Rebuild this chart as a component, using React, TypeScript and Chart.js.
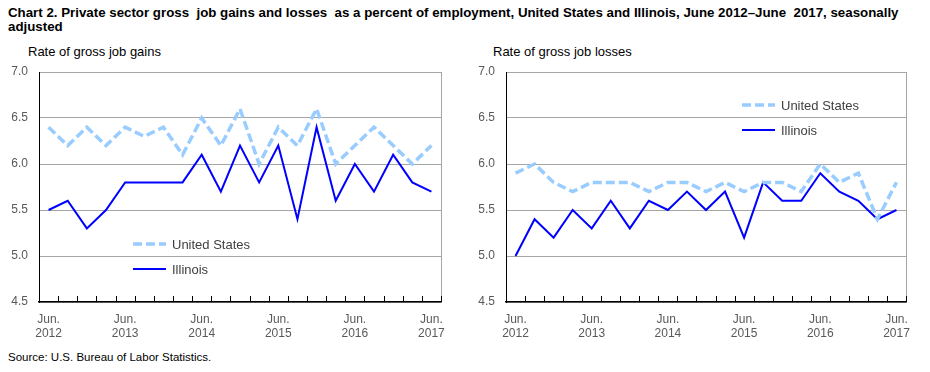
import React, { useEffect, useRef } from 'react';
import { Chart, registerables } from 'chart.js';
Chart.register(...registerables);

const quarters = [
  'Jun. 2012', 'Sep. 2012', 'Dec. 2012', 'Mar. 2013',
  'Jun. 2013', 'Sep. 2013', 'Dec. 2013', 'Mar. 2014',
  'Jun. 2014', 'Sep. 2014', 'Dec. 2014', 'Mar. 2015',
  'Jun. 2015', 'Sep. 2015', 'Dec. 2015', 'Mar. 2016',
  'Jun. 2016', 'Sep. 2016', 'Dec. 2016', 'Mar. 2017',
  'Jun. 2017',
];

const gainsUS = [6.4, 6.2, 6.4, 6.2, 6.4, 6.3, 6.4, 6.1, 6.5, 6.2, 6.6, 6.0, 6.4, 6.2, 6.6, 6.0, 6.2, 6.4, 6.2, 6.0, 6.2];
const gainsIL = [5.5, 5.6, 5.3, 5.5, 5.8, 5.8, 5.8, 5.8, 6.1, 5.7, 6.2, 5.8, 6.2, 5.4, 6.4, 5.6, 6.0, 5.7, 6.1, 5.8, 5.7];
const lossesUS = [5.9, 6.0, 5.8, 5.7, 5.8, 5.8, 5.8, 5.7, 5.8, 5.8, 5.7, 5.8, 5.7, 5.8, 5.8, 5.7, 6.0, 5.8, 5.9, 5.4, 5.8];
const lossesIL = [5.0, 5.4, 5.2, 5.5, 5.3, 5.6, 5.3, 5.6, 5.5, 5.7, 5.5, 5.7, 5.2, 5.8, 5.6, 5.6, 5.9, 5.7, 5.6, 5.4, 5.5];

const seriesNames = ['United States', 'Illinois'];
const yMin = 4.5;
const yMax = 7.0;
const yStep = 0.5;

const FONT = "'Liberation Sans', Arial, sans-serif";
const US_COLOR = '#99CCFF';
const IL_COLOR = '#0000FF';
const GRID = '#A6A6A6';
const TEXT = '#595959';

const decorPlugin = {
  id: 'decor',
  afterDatasetsDraw(chart: any) {
    const { ctx, chartArea } = chart;
    const xs = chart.scales.x;
    const half = (xs.getPixelForValue(1) - xs.getPixelForValue(0)) / 2;
    ctx.save();
    ctx.strokeStyle = GRID;
    ctx.lineWidth = 1;
    ctx.beginPath();
    ctx.moveTo(Math.round(chartArea.right) + 0.5, chartArea.top);
    ctx.lineTo(Math.round(chartArea.right) + 0.5, chartArea.bottom);
    ctx.stroke();
    ctx.strokeStyle = '#000';
    ctx.lineWidth = 1;
    for (let i = 0; i <= quarters.length; i++) {
      const x = Math.round(xs.getPixelForValue(i) - half) + 0.5;
      ctx.beginPath();
      ctx.moveTo(x, chartArea.bottom);
      ctx.lineTo(x, chartArea.bottom - 6);
      ctx.stroke();
    }
    ctx.restore();
  },
  afterDraw(chart: any) {
    const opts = chart.options.plugins.customLegend;
    if (!opts) return;
    const { ctx, chartArea } = chart;
    ctx.save();
    ctx.font = `13px ${FONT}`;
    ctx.textBaseline = 'middle';
    chart.data.datasets.forEach((ds: any, i: number) => {
      const x0 = chartArea.left + opts.x;
      const y = chartArea.top + opts.y + i * opts.gap;
      ctx.strokeStyle = ds.borderColor;
      ctx.lineWidth = ds.borderWidth;
      ctx.setLineDash(ds.borderDash || []);
      ctx.beginPath();
      ctx.moveTo(x0, y);
      ctx.lineTo(x0 + 33, y);
      ctx.stroke();
      ctx.setLineDash([]);
      ctx.fillStyle = '#404040';
      ctx.fillText(ds.label, x0 + 39, y + 1);
    });
    ctx.restore();
  },
};

function Panel(props: {
  us: number[]; il: number[]; width: number; height: number;
  yWidth: number; padRight: number; padTop: number; plotH: number;
  legend: { x: number; y: number; gap: number };
}) {
  const ref = useRef<HTMLCanvasElement>(null);
  useEffect(() => {
    const chart = new Chart(ref.current!, {
      type: 'line',
      data: {
        labels: quarters,
        datasets: [
          {
            label: seriesNames[0], data: props.us, borderColor: US_COLOR, borderWidth: 3.5,
            borderDash: [9, 4], pointRadius: 0, tension: 0, fill: false,
          },
          {
            label: seriesNames[1], data: props.il, borderColor: IL_COLOR, borderWidth: 2,
            pointRadius: 0, tension: 0, fill: false,
          },
        ],
      },
      options: {
        animation: false,
        responsive: false,
        devicePixelRatio: 1,
        layout: { padding: { left: 0, top: props.padTop, right: props.padRight, bottom: 0 } },
        plugins: {
          legend: { display: false },
          tooltip: { enabled: false },
          customLegend: props.legend,
        } as any,
        scales: {
          x: {
            type: 'category',
            offset: true,
            grid: { display: false, offset: true },
            border: { display: true, color: '#000', width: 1.5 },
            ticks: {
              autoSkip: false,
              maxRotation: 0,
              minRotation: 0,
              padding: 2,
              color: TEXT,
              font: { family: FONT, size: 12, lineHeight: 1.22 },
              callback: (_v: any, i: number) => {
                if (i % 4 !== 0) return '';
                const parts = quarters[i].split(' ');
                return [parts[0], parts[1]];
              },
            },
            afterFit: (s: any) => { s.height = props.height - props.padTop - props.plotH; s.paddingLeft = 0; s.paddingRight = 0; },
          },
          y: {
            min: yMin,
            max: yMax,
            grid: { color: GRID, drawTicks: false, lineWidth: 1 },
            border: { display: true, color: '#000', width: 1 },
            ticks: {
              stepSize: yStep,
              padding: 11,
              color: TEXT,
              font: { family: FONT, size: 12 },
              callback: (v: any) => Number(v).toFixed(1),
            },
            afterFit: (s: any) => { s.width = props.yWidth; s.paddingTop = 0; s.paddingBottom = 0; },
          },
        },
      } as any,
      plugins: [decorPlugin],
    });
    return () => chart.destroy();
  }, []);
  return <canvas ref={ref} width={props.width} height={props.height} style={{ width: props.width, height: props.height, display: 'block' }} />;
}

export default function App() {
  return (
    <div style={{ position: 'fixed', left: 0, top: 0, width: 930, height: 372, background: '#fff', fontFamily: FONT, color: '#000' }}>
      <div style={{ position: 'absolute', left: 8, top: 6, width: 915, fontSize: 13.3, fontWeight: 'bold', lineHeight: '14px', whiteSpace: 'nowrap' }}>
        Chart 2. Private sector gross&nbsp; job gains and losses&nbsp; as a percent of employment, United States and Illinois, June 2012–June&nbsp; 2017, seasonally<br />adjusted
      </div>
      <div style={{ position: 'absolute', left: 28, top: 44, fontSize: 13, lineHeight: '15px', color: '#000' }}>Rate of gross job gains</div>
      <div style={{ position: 'absolute', left: 493, top: 44, fontSize: 13, lineHeight: '15px', color: '#000' }}>Rate of gross job losses</div>
      <div style={{ position: 'absolute', left: 0, top: 60 }}>
        <Panel us={gainsUS} il={gainsIL} width={460} height={290} yWidth={39} padRight={19} padTop={12} plotH={230}
          legend={{ x: 94, y: 172, gap: 25 }} />
      </div>
      <div style={{ position: 'absolute', left: 465, top: 60 }}>
        <Panel us={lossesUS} il={lossesIL} width={465} height={290} yWidth={41} padRight={24} padTop={12} plotH={230}
          legend={{ x: 236, y: 33, gap: 25 }} />
      </div>
      <div style={{ position: 'absolute', left: 8, top: 351, fontSize: 11.5, color: '#000' }}>Source: U.S. Bureau of Labor Statistics.</div>
    </div>
  );
}
